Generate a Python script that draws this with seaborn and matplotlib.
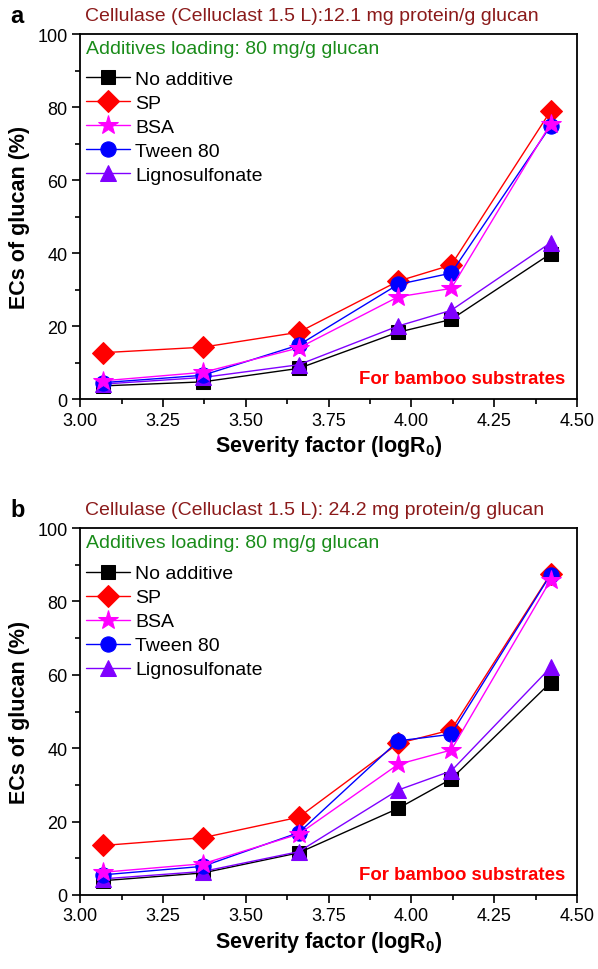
import matplotlib
matplotlib.use("Agg")
import matplotlib.pyplot as plt
import seaborn as sns
import pandas as pd
from matplotlib.ticker import MultipleLocator

# severity factor (logR0) of the pretreated bamboo substrates
severity = [3.07, 3.37, 3.66, 3.96, 4.12, 4.42]

# panel a: 12.1 mg protein/g glucan
no_add_a = [3.6, 4.7, 8.4, 18.3, 21.8, 39.8]
sp_a = [12.7, 14.2, 18.3, 32.3, 36.7, 78.9]
bsa_a = [5.0, 7.3, 14.0, 28.0, 30.3, 75.4]
tween_a = [4.5, 6.5, 14.8, 31.4, 34.5, 74.8]
ligno_a = [4.1, 5.9, 9.4, 20.0, 24.3, 42.8]

# panel b: 24.2 mg protein/g glucan
no_add_b = [3.9, 6.0, 11.5, 23.6, 31.6, 57.9]
sp_b = [13.5, 15.6, 21.2, 41.3, 45.0, 87.5]
bsa_b = [6.2, 8.5, 16.6, 35.6, 39.5, 85.8]
tween_b = [5.5, 7.8, 17.0, 42.0, 43.8, 87.3]
ligno_b = [4.4, 6.4, 11.8, 28.6, 33.8, 62.0]

series_names = ["No additive", "SP", "BSA", "Tween 80", "Lignosulfonate"]
titles = ["Cellulase (Celluclast 1.5 L):12.1 mg protein/g glucan",
          "Cellulase (Celluclast 1.5 L): 24.2 mg protein/g glucan"]
panel_tags = ["a", "b"]

colors = ["#000000", "#FF0000", "#FF00FF", "#0000FF", "#8000FF"]
markers = ["s", "D", "*", "o", "^"]
msizes = [10, 11, 15, 11, 12]
zorders = [2, 2, 4, 3, 2]

sns.set_theme(style="ticks")
plt.rcParams["font.family"] = ["Liberation Sans", "DejaVu Sans"]
plt.rcParams["mathtext.fontset"] = "custom"
plt.rcParams["mathtext.rm"] = "Liberation Sans"
plt.rcParams["mathtext.bf"] = "Liberation Sans:bold"
plt.rcParams["text.color"] = "black"
plt.rcParams["axes.labelcolor"] = "black"
plt.rcParams["xtick.color"] = "black"
plt.rcParams["ytick.color"] = "black"

fig = plt.figure(figsize=(5.98, 9.70), dpi=100)
ax_a = fig.add_axes([0.134, 0.5876, 0.831, 0.3763])
ax_b = fig.add_axes([0.134, 0.0763, 0.831, 0.3783])

panels = [
    (ax_a, [no_add_a, sp_a, bsa_a, tween_a, ligno_a]),
    (ax_b, [no_add_b, sp_b, bsa_b, tween_b, ligno_b]),
]

for i, (ax, ys) in enumerate(panels):
    for name, y, c, m, ms, z in zip(series_names, ys, colors, markers, msizes, zorders):
        df = pd.DataFrame({"x": severity, "y": y})
        sns.lineplot(data=df, x="x", y="y", ax=ax, color=c, marker=m,
                     markersize=ms, markeredgecolor=c, linewidth=1,
                     label=name, zorder=z)

    ax.set_xlim(3.0, 4.5)
    ax.set_ylim(0, 100)
    ax.xaxis.set_major_locator(MultipleLocator(0.25))
    ax.xaxis.set_minor_locator(MultipleLocator(0.125))
    ax.yaxis.set_major_locator(MultipleLocator(20))
    ax.yaxis.set_minor_locator(MultipleLocator(10))
    ax.set_xticklabels([f"{v:.2f}" for v in ax.get_xticks()])
    ax.tick_params(which="major", direction="out", length=6, width=1.2,
                   labelsize=13, colors="black", pad=3)
    ax.tick_params(which="minor", direction="out", length=3.5, width=1.2)
    for s in ax.spines.values():
        s.set_linewidth(1.3)
        s.set_color("black")
        s.set_visible(True)

    ax.set_xlabel(r"Severity factor (logR$_\mathbf{0}$)", fontsize=15.5,
                  fontweight="bold", labelpad=3)
    ax.set_ylabel("ECs of glucan (%)", fontsize=15.5, fontweight="bold",
                  labelpad=5)

    ax.text(0.01, 1.05, titles[i], transform=ax.transAxes, fontsize=14,
            color="#8B1A1A", ha="left", va="center")
    ax.text(-0.14, 1.05, panel_tags[i], transform=ax.transAxes, fontsize=17,
            fontweight="bold", ha="left", va="center")
    ax.text(0.012, 0.96, "Additives loading: 80 mg/g glucan",
            transform=ax.transAxes, fontsize=14, color="#1A8C1A",
            ha="left", va="center")
    ax.text(0.977, 0.055, "For bamboo substrates", transform=ax.transAxes,
            fontsize=13.4, fontweight="bold", color="#FF0000",
            ha="right", va="center")

    ax.legend(loc="upper left", bbox_to_anchor=(0.012, 0.90), frameon=False,
              fontsize=14, handlelength=2.27, handletextpad=0.25,
              labelspacing=0.33, borderaxespad=0, borderpad=0,
              labelcolor="black")

fig.savefig("out.png", dpi=100)
